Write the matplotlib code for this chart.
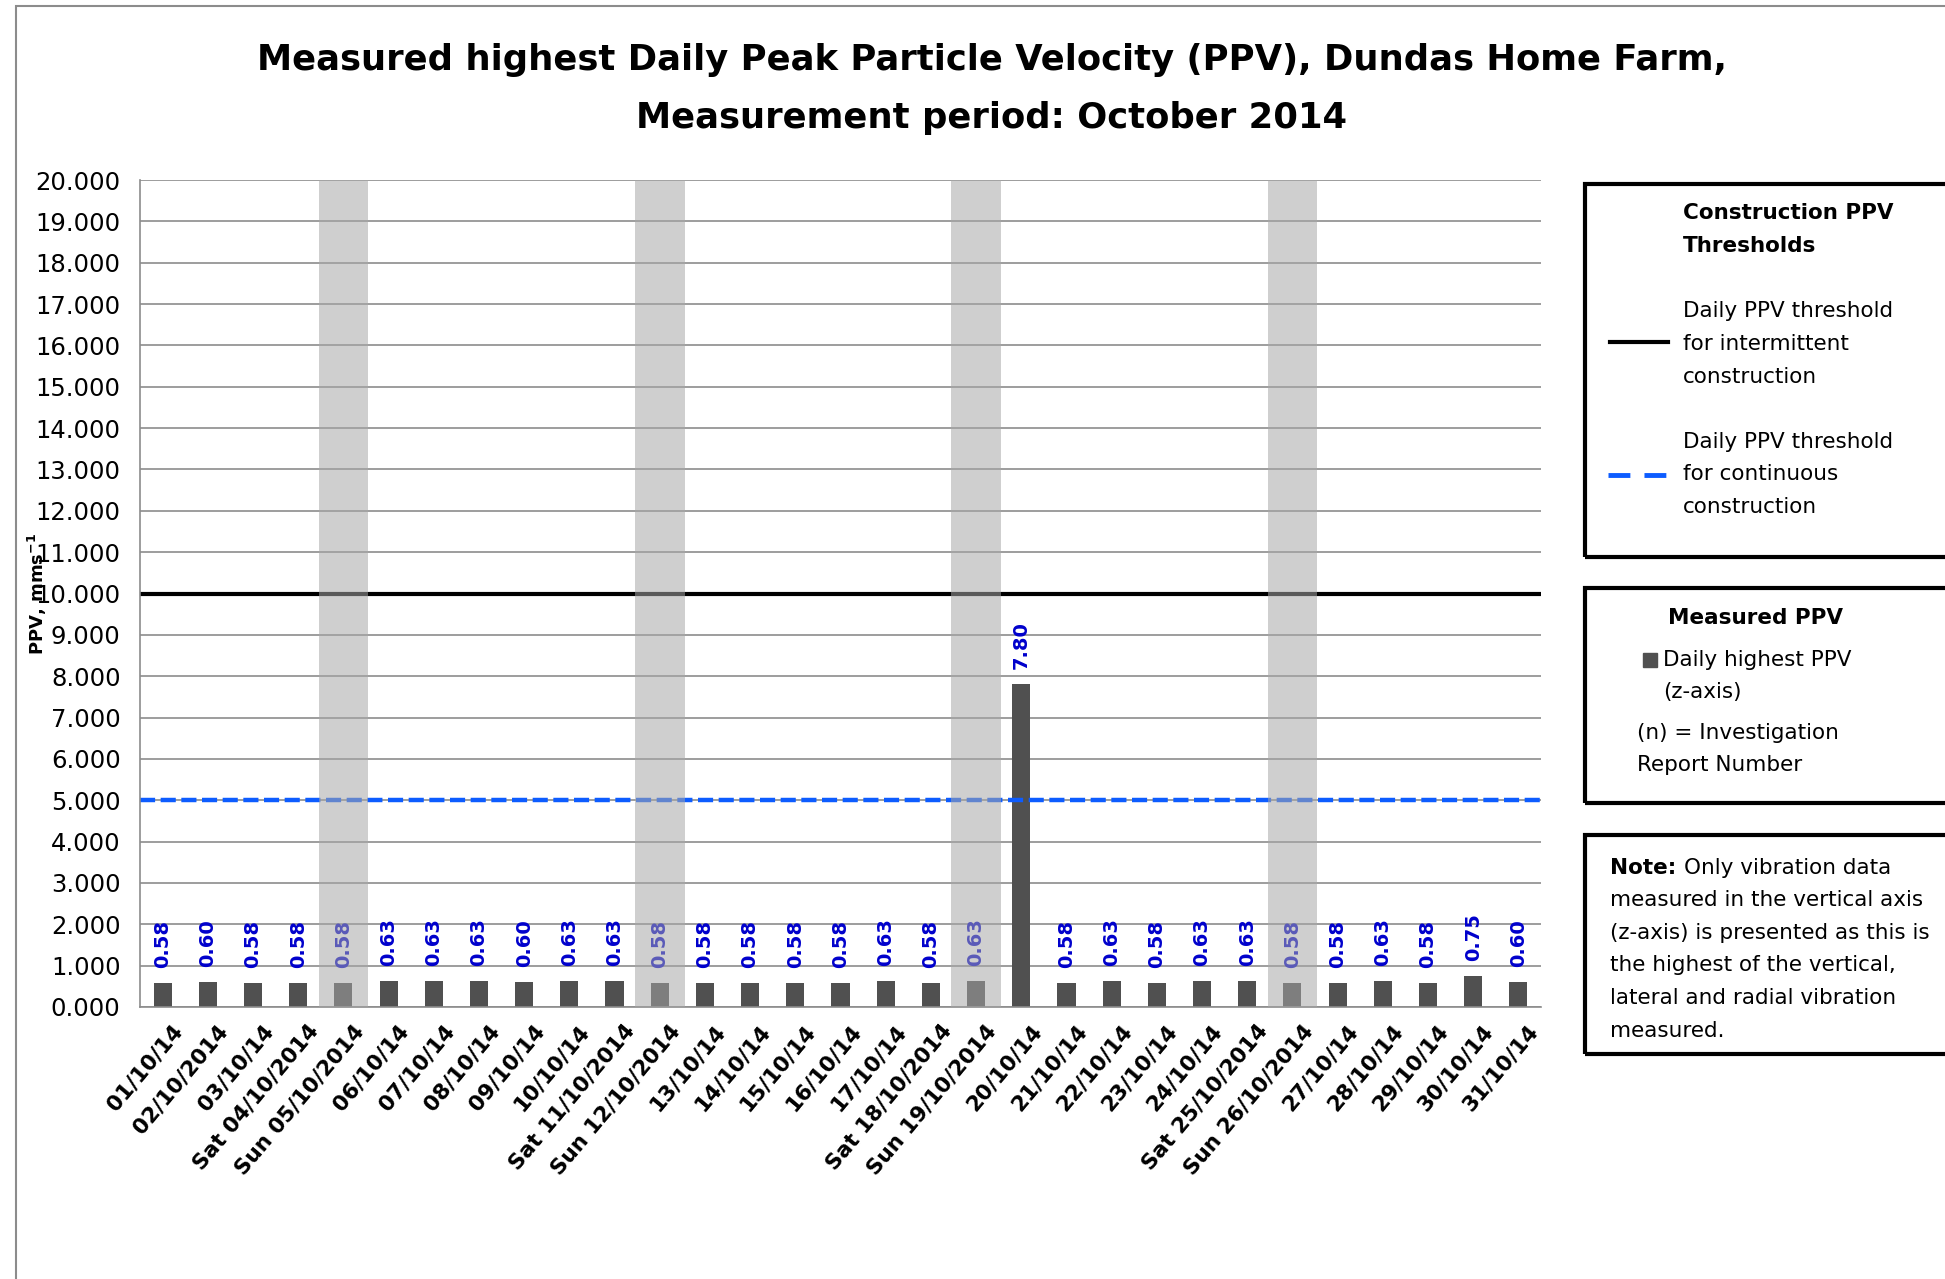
import matplotlib
matplotlib.use("Agg")
import matplotlib.pyplot as plt
import matplotlib.transforms as mtransforms
from matplotlib.patches import Rectangle
from matplotlib.lines import Line2D

plt.rcParams['font.family'] = ['DejaVu Sans']

# data
dates = ['01/10/14', '02/10/2014', '03/10/14', 'Sat 04/10/2014', 'Sun 05/10/2014',
         '06/10/14', '07/10/14', '08/10/14', '09/10/14', '10/10/14',
         'Sat 11/10/2014', 'Sun 12/10/2014', '13/10/14', '14/10/14', '15/10/14',
         '16/10/14', '17/10/14', 'Sat 18/10/2014', 'Sun 19/10/2014', '20/10/14',
         '21/10/14', '22/10/14', '23/10/14', '24/10/14', 'Sat 25/10/2014',
         'Sun 26/10/2014', '27/10/14', '28/10/14', '29/10/14', '30/10/14', '31/10/14']
ppv = [0.58, 0.60, 0.58, 0.58, 0.58, 0.63, 0.63, 0.63, 0.60, 0.63,
       0.63, 0.58, 0.58, 0.58, 0.58, 0.58, 0.63, 0.58, 0.63, 7.80,
       0.58, 0.63, 0.58, 0.63, 0.63, 0.58, 0.58, 0.63, 0.58, 0.75, 0.60]
sunday_idx = [4, 11, 18, 25]
sunday_band = [20.0, 20.0, 20.05, 20.1]
intermittent_limit = 10.0
continuous_limit = 5.0
yticks = list(range(0, 21))

W, H = 1945, 1279
fig = plt.figure(figsize=(W / 100, H / 100), dpi=100)
ax = fig.add_axes([140 / W, 1 - 1007 / H, (1541 - 140) / W, (1007 - 180) / H])

x = list(range(len(dates)))
ax.bar(x, ppv, width=0.4, color='#505050', zorder=2)

for i, v in zip(x, ppv):
    ax.annotate(f'{v:.2f}', (i, v), xytext=(0, 11), textcoords='offset points',
                rotation=90, ha='center', va='bottom', color='#0000CC',
                fontsize=14, fontweight='bold', zorder=3)

ax.axhline(intermittent_limit, color='black', lw=3, zorder=2.5)
ax.axhline(continuous_limit, color='#0d5cff', lw=3.2, dashes=(3.4, 1.25), zorder=2.5)

# weekend shading drawn over everything, semi-transparent
ax.bar(sunday_idx, [h + 0.12 for h in sunday_band], bottom=-0.12, width=1.1,
       color='#a7a7a7', alpha=0.54, zorder=4, linewidth=0)

ax.set_xlim(-0.5, len(dates) - 0.5)
ax.set_ylim(0, 20)
ax.set_yticks(yticks)
ax.set_yticklabels([f'{t:.3f}' for t in yticks], fontsize=17.5)
ax.grid(axis='y', color='#8c8c8c', lw=1.2, zorder=0)
ax.set_axisbelow(True)
ax.tick_params(axis='y', length=0, pad=14)
ax.tick_params(axis='x', length=0, pad=10)
for s in ['top', 'right']:
    ax.spines[s].set_visible(False)
ax.spines['left'].set_color('#8c8c8c')
ax.spines['bottom'].set_color('#8c8c8c')
ax.spines['left'].set_linewidth(1.2)
ax.spines['bottom'].set_linewidth(1.2)

ax.set_xticks(x)
ax.set_xticklabels(dates, rotation=50, ha='right', va='top', rotation_mode='anchor',
                   fontsize=15.5, fontweight='bold')
shift = mtransforms.ScaledTranslation(9 / 100, 0, fig.dpi_scale_trans)
for lab in ax.get_xticklabels():
    lab.set_transform(lab.get_transform() + shift)

fig.text(37 / W, 1 - 594 / H, 'PPV, mms$^{\\mathbf{-1}}$', rotation=90, ha='center',
         va='center', fontsize=13, fontweight='bold')

fig.text(992 / W, 1 - 60 / H, 'Measured highest Daily Peak Particle Velocity (PPV), Dundas Home Farm,',
         ha='center', va='center', fontsize=25.5, fontweight='bold')
fig.text(992 / W, 1 - 118 / H, 'Measurement period: October 2014',
         ha='center', va='center', fontsize=25.5, fontweight='bold')

# outer chart border (clipped at right and bottom)
fig.patches.append(Rectangle((16 / W, -0.1), 2, 1.1 - 6 / H, transform=fig.transFigure,
                             fill=False, edgecolor='#8c8c8c', lw=1.5))

FS = 15.5


def box(y_top, y_bot):
    fig.patches.append(Rectangle((1585 / W, 1 - y_bot / H), 0.5, (y_bot - y_top) / H,
                                 transform=fig.transFigure, fill=False,
                                 edgecolor='black', lw=3))


def txt(xp, yp, s, **kw):
    return fig.text(xp / W, 1 - yp / H, s, va='center', ha='left', fontsize=FS, **kw)


box(184, 557)
txt(1683, 213, 'Construction PPV', fontweight='bold')
txt(1683, 246, 'Thresholds', fontweight='bold')
fig.lines.append(Line2D([1610 / W, 1668 / W], [1 - 342 / H] * 2, transform=fig.transFigure,
                        color='black', lw=3))
for yy, s in zip([311, 344, 377], ['Daily PPV threshold', 'for intermittent', 'construction']):
    txt(1683, yy, s)
fig.lines.append(Line2D([1608 / W, 1666 / W], [1 - 475 / H] * 2, transform=fig.transFigure,
                        color='#0d5cff', lw=3.5, dashes=(4.5, 2.9)))
for yy, s in zip([442, 474, 507], ['Daily PPV threshold', 'for continuous', 'construction']):
    txt(1683, yy, s)

box(588, 803)
fig.text(1756 / W, 1 - 618 / H, 'Measured PPV', ha='center', va='center', fontsize=FS,
         fontweight='bold')
fig.patches.append(Rectangle((1643 / W, 1 - 667 / H), 14 / W, 14 / H,
                             transform=fig.transFigure, color='#505050'))
txt(1663, 660, 'Daily highest PPV')
txt(1663, 692, '(z-axis)')
txt(1637, 733, '(n) = Investigation')
txt(1637, 765, 'Report Number')

box(835, 1054)
note = txt(1610, 868, 'Note: ', fontweight='bold')
r = fig.canvas.get_renderer()
nx1 = note.get_window_extent(r).x1
txt(nx1, 868, 'Only vibration data')
for yy, s in zip([900, 933, 965, 998, 1031],
                 ['measured in the vertical axis', '(z-axis) is presented as this is',
                  'the highest of the vertical,', 'lateral and radial vibration', 'measured.']):
    txt(1610, yy, s)

fig.savefig('out.png', dpi=100)
